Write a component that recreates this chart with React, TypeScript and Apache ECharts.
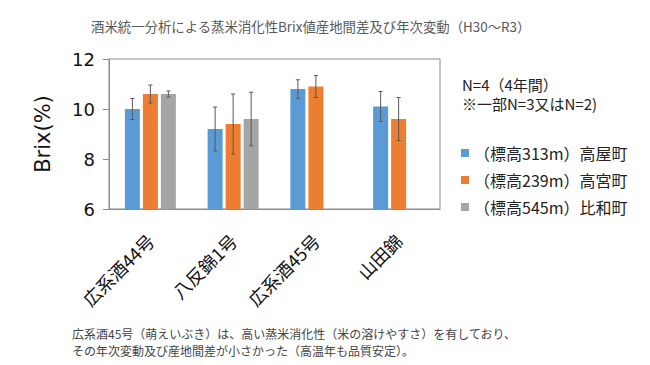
import React, { useEffect, useRef } from "react";
import * as echarts from "echarts";

const categories = ["広系酒44号", "八反錦1号", "広系酒45号", "山田錦"];
const seriesNames = ["（標高313m）高屋町", "（標高239m）高宮町", "（標高545m）比和町"];
const takayaValues = [10.0, 9.2, 10.8, 10.1];
const takamiyaValues = [10.6, 9.4, 10.9, 9.6];
const hiwaValues: (number | null)[] = [10.6, 9.6, null, null];
const takayaErr = [0.42, 0.88, 0.37, 0.6];
const takamiyaErr = [0.36, 1.2, 0.44, 0.86];
const hiwaErr: (number | null)[] = [0.12, 1.07, null, null];
const yTicks = { min: 6, max: 12, interval: 2 };

const titleText = "酒米統一分析による蒸米消化性Brix値産地間差及び年次変動（H30～R3）";
const noteLines = ["N=4（4年間）", "※一部N=3又はN=2)"];
const footText =
  "広系酒45号（萌えいぶき）は、高い蒸米消化性（米の溶けやすさ）を有しており、\nその年次変動及び産地間差が小さかった（高温年も品質安定）。";

const colors = ["#5B9BD5", "#ED7D31", "#A5A5A5"];
const JP = '"Noto Sans CJK JP", "Noto Sans", sans-serif';

export default function App() {
  const ref = useRef<HTMLDivElement>(null);
  useEffect(() => {
    if (!ref.current) return;
    const chart = echarts.init(ref.current, undefined, { renderer: "svg" });
    const values = [takayaValues, takamiyaValues, hiwaValues];
    const errs = [takayaErr, takamiyaErr, hiwaErr];
    const barSeries = values.map((v, i) => ({
      name: seriesNames[i],
      type: "bar",
      data: v.map((x) => (x == null ? "-" : x)),
      barWidth: 15,
      barGap: "20%",
      itemStyle: { color: colors[i] },
      z: 2,
    }));
    const errSeries = values.map((v, i) => ({
      name: "err" + i,
      type: "custom",
      z: 5,
      data: v
        .map((x, k) => (x == null || errs[i][k] == null ? null : [k, x, errs[i][k]]))
        .filter((d) => d != null),
      renderItem: (params: any, api: any) => {
        const k = api.value(0);
        const val = api.value(1);
        const e = api.value(2);
        const top = api.coord([k, val + e]);
        const bot = api.coord([k, val - e]);
        const x = top[0] + (i - 1) * 18;
        const cap = 2;
        const style = { stroke: "#595959", lineWidth: 1 };
        return {
          type: "group",
          children: [
            { type: "line", shape: { x1: x, y1: top[1], x2: x, y2: bot[1] }, style },
            { type: "line", shape: { x1: x - cap, y1: top[1], x2: x + cap, y2: top[1] }, style },
            { type: "line", shape: { x1: x - cap, y1: bot[1], x2: x + cap, y2: bot[1] }, style },
          ],
        };
      },
      encode: { x: 0, y: 1 },
      silent: true,
    }));
    chart.setOption({
      animation: false,
      backgroundColor: "#ffffff",
      title: {
        text: titleText,
        left: 86,
        top: 14,
        textStyle: { fontSize: 13.4, fontWeight: "normal", color: "#595959", fontFamily: JP },
      },
      legend: {
        data: seriesNames,
        orient: "vertical",
        left: 456,
        top: 140,
        itemWidth: 8,
        itemHeight: 8,
        itemGap: 11,
        icon: "rect",
        textStyle: { fontSize: 16, color: "#222", fontFamily: JP },
      },
      grid: {
        left: 109,
        right: 210,
        top: 59,
        bottom: 156,
        show: true,
        borderColor: "#8c8c8c",
        borderWidth: 1,
      },
      xAxis: {
        type: "category",
        data: categories,
        axisTick: { show: false },
        axisLine: { lineStyle: { color: "#8c8c8c" } },
        axisLabel: {
          rotate: 45,
          fontSize: 18,
          color: "#111",
          fontFamily: JP,
          margin: 28,
        },
      },
      yAxis: {
        type: "value",
        min: yTicks.min,
        max: yTicks.max,
        interval: yTicks.interval,
        name: "Brix(%)",
        nameLocation: "middle",
        nameRotate: 90,
        nameGap: 56,
        nameTextStyle: { fontSize: 21, color: "#111", fontFamily: '"DejaVu Sans", sans-serif' },
        axisLine: { show: true, lineStyle: { color: "#8c8c8c" } },
        axisTick: { show: true, inside: false, length: 6, lineStyle: { color: "#8c8c8c" } },
        splitLine: { show: false },
        axisLabel: {
          fontSize: 18,
          color: "#111",
          margin: 14,
          fontFamily: '"DejaVu Sans", sans-serif',
        },
      },
      graphic: [
        {
          type: "text",
          left: 462,
          top: 77,
          style: { text: noteLines[0], fontSize: 15, fill: "#222", fontFamily: JP },
        },
        {
          type: "text",
          left: 462,
          top: 96,
          style: { text: noteLines[1], fontSize: 15, fill: "#222", fontFamily: JP },
        },
        {
          type: "text",
          left: 72,
          top: 325,
          style: { text: footText, fontSize: 12, lineHeight: 17, fill: "#444", fontFamily: JP },
        },
      ],
      series: [...barSeries, ...errSeries],
    });
    return () => chart.dispose();
  }, []);
  return <div ref={ref} style={{ width: 650, height: 365, position: "absolute", left: 0, top: 0 }} />;
}
